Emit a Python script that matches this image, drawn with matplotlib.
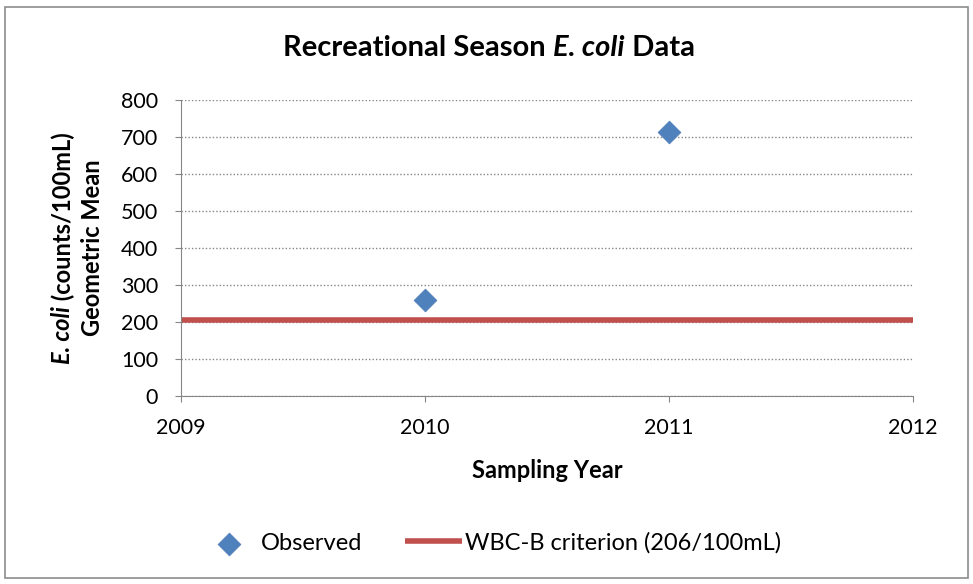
import matplotlib
matplotlib.use("Agg")
import matplotlib.pyplot as plt
from matplotlib.patches import Rectangle

years = [2010, 2011]
geomean = [259, 713]
criterion_x = [2009, 2012]
criterion_y = [206, 206]
yticks = [0, 100, 200, 300, 400, 500, 600, 700, 800]
xticks = [2009, 2010, 2011, 2012]

FONT = "Lato"
plt.rcParams['font.family'] = [FONT, 'DejaVu Sans']

fig = plt.figure(figsize=(9.73, 5.84), dpi=100)
fig.patches.append(Rectangle((5/973, 6/584), 963/973, 571/584, transform=fig.transFigure,
                             fill=False, edgecolor="#8c8c8c", linewidth=1.2))
ax = fig.add_axes([181/973, 1-396/584, (913-181)/973, (396-100)/584])

ax.plot(criterion_x, criterion_y, color="#c0504d", linewidth=4, solid_capstyle="butt",
        label="WBC-B criterion (206/100mL)", zorder=2)
ax.scatter(years, geomean, marker="D", s=135, color="#4f81bd", edgecolors="#4a7ab5",
           linewidths=0.5, label="Observed", zorder=3)

ax.set_xlim(2009, 2012)
ax.set_ylim(0, 800)
ax.set_xticks(xticks)
ax.set_yticks(yticks)
ax.set_xticklabels([str(x) for x in xticks])
ax.tick_params(labelsize=15.5, colors="black", length=4.5, color="#868686")
ax.tick_params(axis="x", pad=11)
ax.tick_params(axis="y", pad=12)
ax.yaxis.grid(True, linestyle=(0, (1, 1.5)), color="#868686", linewidth=1)
ax.set_axisbelow(True)
for s in ["top", "right"]:
    ax.spines[s].set_visible(False)
for s in ["left", "bottom"]:
    ax.spines[s].set_color("#868686")

fig.canvas.draw()
r = fig.canvas.get_renderer()

def rich_line(parts, x, y, rotation=0, size=13):
    texts = []
    widths = []
    for t, st in parts:
        tx = fig.text(0, 0, t, fontsize=size, fontweight="bold", fontstyle=st,
                      rotation=rotation, transform=None, va="center", ha="left" if rotation == 0 else "center")
        texts.append(tx)
        bb = tx.get_window_extent(r)
        widths.append(bb.width if rotation == 0 else bb.height)
    total = sum(widths)
    pos = -total / 2
    for tx, w in zip(texts, widths):
        if rotation == 0:
            tx.set_position((x + pos, y))
            tx.set_ha("left")
        else:
            tx.set_position((x, y + pos + w / 2))
            tx.set_va("center")
            tx.set_ha("center")
        pos += w

H = 584
rich_line([("Recreational Season ", "normal"), ("E. coli", "italic"), (" Data", "normal")],
          489, H - 48, size=21)
rich_line([("E. coli", "italic"), (" (counts/100mL)", "normal")], 63, H - 248, rotation=90, size=17)
rich_line([("Geometric Mean", "normal")], 93, H - 248, rotation=90, size=17)
rich_line([("Sampling Year", "normal")], 547, H - 471, size=17)

handles, labels = ax.get_legend_handles_labels()
order = [1, 0]
fig.legend([handles[i] for i in order], [labels[i] for i in order], loc="center",
           bbox_to_anchor=(491/973, 1-543/584), ncol=2, frameon=False, fontsize=17,
           handlelength=2.4, columnspacing=1.8, handletextpad=0.15)

fig.savefig("out.png", dpi=100)
